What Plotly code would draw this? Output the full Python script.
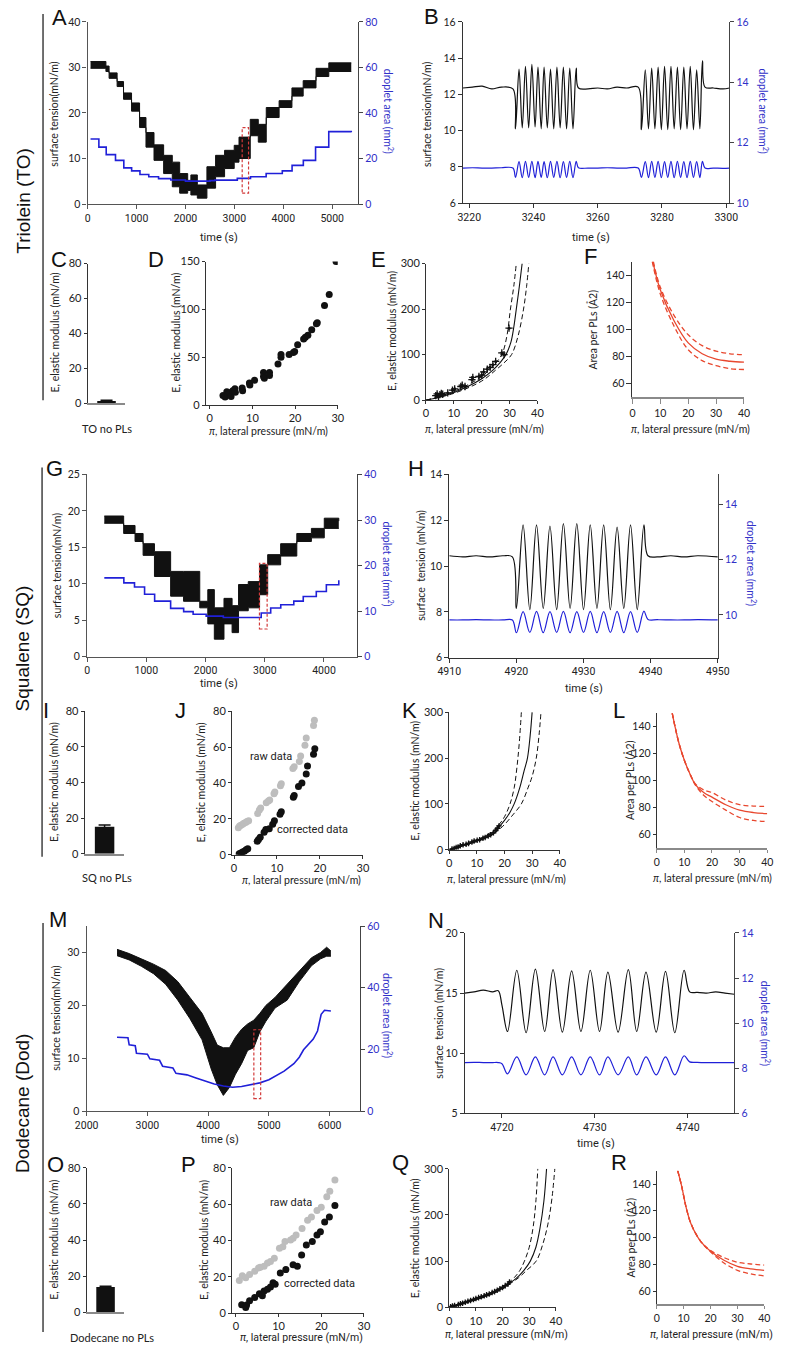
import plotly.graph_objects as go

W, H = 787, 1349

# ====================== DATA ======================
# ---- A: Triolein time course ----
a_time = [60, 374, 439, 603, 734, 898, 1062, 1193, 1357, 1554, 1731, 1882, 2046, 2111, 2243, 2439, 2616, 2800, 2997, 3095, 3325, 3489, 3652, 3915, 4177, 4407, 4669, 4931, 5390]
a_tension_hi = [31.3, 30.3, 28.8, 26.9, 24.4, 22.2, 19.0, 15.7, 13.0, 10.7, 9.2, 6.7, 5.2, 6.4, 4.2, 8.2, 10.7, 11.8, 12.9, 14.7, 18.6, 17.5, 21.2, 22.7, 25.5, 27.1, 29.8, 31.0, 31.0]
a_tension_lo = [29.8, 29.1, 27.6, 25.8, 23.0, 20.4, 16.8, 12.5, 9.6, 6.7, 3.8, 2.4, 3.0, 2.0, 1.3, 3.5, 6.0, 7.8, 9.2, 10.0, 15.0, 13.6, 19.0, 21.2, 23.7, 25.5, 28.0, 29.1, 29.1]
a_area_time = [60, 230, 380, 570, 740, 900, 1070, 1250, 1450, 1700, 2000, 2500, 2600, 3060, 3330, 3650, 3980, 4180, 4410, 4660, 4930, 5390]
a_area = [28.6, 25.0, 21.7, 19.2, 15.9, 14.6, 13.0, 12.0, 11.2, 10.6, 10.1, 10.3, 10.5, 11.3, 12.0, 13.4, 14.6, 17.0, 19.2, 25.0, 31.8, 31.5]
a_box = [3160, 3290, 2.4, 16.8]

# ---- B: Triolein oscillations ----
b_time = [3218, 3221, 3224, 3227, 3230, 3233.6,
          3234.4, 3235.5, 3236.5, 3237.5, 3238.5, 3239.5, 3240.5, 3241.4, 3242.4, 3243.3,
          3244.3, 3245.3, 3246.3, 3247.3, 3248.3, 3249.3, 3250.3, 3251.3, 3252.3, 3253.3,
          3254.0, 3257, 3260, 3263, 3266, 3269, 3272.6,
          3273.6, 3274.8, 3275.8, 3276.8, 3277.8, 3278.8, 3279.8, 3280.8, 3281.8, 3282.8,
          3283.8, 3284.8, 3285.8, 3286.8, 3287.8, 3288.8, 3289.8, 3290.8, 3291.8, 3292.6,
          3293.4, 3296, 3299, 3301]
b_tension = [12.35, 12.4, 12.45, 12.3, 12.4, 12.3,
             10.1, 13.4, 10.15, 13.55, 10.15, 13.65, 10.2, 13.5, 10.1, 13.5,
             10.15, 13.4, 10.1, 13.5, 10.15, 13.5, 10.1, 13.45, 10.1, 13.45,
             12.35, 12.3, 12.35, 12.3, 12.4, 12.35, 12.4,
             10.05, 13.35, 10.1, 13.45, 10.1, 13.5, 10.05, 13.55, 10.05, 13.55,
             10.1, 13.5, 10.05, 13.5, 10.1, 13.55, 10.05, 13.35, 10.1, 13.85,
             12.4, 12.35, 12.3, 12.35]
b_area = [11.16, 11.17, 11.16, 11.16, 11.17, 11.16,
          10.85, 11.37, 10.84, 11.38, 10.85, 11.38, 10.84, 11.38, 10.85, 11.37,
          10.84, 11.38, 10.85, 11.38, 10.84, 11.37, 10.85, 11.38, 10.84, 11.38,
          11.17, 11.16, 11.16, 11.17, 11.16, 11.16, 11.16,
          10.85, 11.37, 10.84, 11.38, 10.85, 11.38, 10.84, 11.37, 10.85, 11.38,
          10.84, 11.38, 10.85, 11.37, 10.84, 11.38, 10.85, 11.37, 10.84, 11.38,
          11.16, 11.16, 11.15, 11.16]

# ---- C / I / O: bars ----
c_label, c_value, c_err = ["TO no PLs"], [1.2], [0.5]
i_label, i_value, i_err = ["SQ no PLs"], [15.2], [1.0]
o_label, o_value, o_err = ["Dodecane no PLs"], [14.0], [0.4]

# ---- D ----
d_pi = [3.1, 3.6, 4.0, 4.2, 4.6, 5.0, 5.4, 5.9, 6.0, 7.6, 7.7, 9.3, 9.4, 10.5, 12.6, 12.6, 12.8, 14.0, 14.0, 16.0,
        16.7, 16.7, 18.6, 19.6, 19.9, 20.6, 22.0, 22.4, 23.0, 23.9, 25.2, 25.0, 26.9, 28.0, 29.6]
d_E = [10.0, 8.6, 14.0, 11.0, 13.0, 9.0, 15.0, 17.0, 13.5, 18.0, 15.0, 23.0, 21.0, 26.0, 34.0, 30.0, 28.0, 34.0, 31.0, 43.0,
       50.0, 53.0, 53.0, 55.0, 56.0, 63.0, 69.0, 71.0, 73.0, 78.6, 86.0, 85.0, 104.0, 115.5, 150.0]

# ---- E ----
e_pi = [3.5, 4.0, 4.5, 5.0, 5.5, 6.0, 7.8, 9.5, 10.3, 12.5, 13.0, 14.0, 16.5, 16.8, 19.0, 20.0, 20.7, 22.0, 23.0, 24.0, 25.0, 27.2, 28.0, 29.8]
e_E = [10, 14, 8, 12, 15, 13, 16, 22, 25, 30, 33, 30, 45, 50, 52, 55, 62, 68, 72, 78, 85, 104, 100, 158]
e_fit_pi = [0, 5, 10, 15, 20, 24, 26.5, 28.7, 30.5, 31.5, 32.4, 33.5, 34.5]
e_fit_E = [0, 7, 17, 30, 47, 66, 82, 100, 128, 160, 200, 250, 300]
e_up_pi = [0, 10, 20, 24, 27.2, 29, 30.3, 31.5, 32.4]
e_up_E = [0, 19, 52, 75, 100, 140, 200, 250, 300]
e_dn_pi = [0, 10, 20, 25, 28, 30.7, 33, 35, 36.1, 36.9]
e_dn_E = [0, 15, 42, 66, 82, 100, 140, 200, 250, 300]

# ---- F ----
f_fit_pi = [7.3, 10, 15, 20, 25, 30, 35, 40]
f_fit_A = [150, 129, 106, 90, 82, 78, 76.5, 75.8]
f_up_pi = [7.5, 10, 15, 20, 25, 30, 35, 40]
f_up_A = [150, 131, 110, 96, 88, 84, 82, 81.3]
f_dn_pi = [7.1, 10, 15, 20, 25, 30, 35, 40]
f_dn_A = [150, 126, 102, 85, 77, 73.3, 71, 70.4]

# ---- G: Squalene time course ----
g_time = [290, 617, 809, 945, 1137, 1410, 1628, 1902, 2038, 2148, 2311, 2448, 2557, 2721, 2912, 3049, 3268, 3541, 3787, 4005, 4250]
g_tension_hi = [19.3, 18.0, 16.9, 15.5, 14.4, 11.7, 11.7, 7.6, 9.2, 6.7, 8.0, 7.0, 9.9, 10.3, 12.6, 14.0, 15.5, 16.9, 17.6, 19.0, 18.6]
g_tension_lo = [18.3, 16.9, 15.8, 13.9, 11.0, 8.3, 7.6, 6.7, 4.5, 2.4, 4.5, 3.3, 6.3, 6.7, 8.5, 12.6, 13.8, 15.8, 16.3, 17.6, 17.6]
g_area_time = [290, 620, 800, 970, 1140, 1410, 1630, 1790, 2010, 2300, 2940, 3100, 3270, 3490, 3650, 3870, 4040, 4250]
g_area = [17.3, 16.2, 15.3, 13.7, 12.2, 10.6, 9.9, 9.3, 8.9, 8.6, 9.6, 10.7, 11.4, 12.2, 13.2, 14.3, 15.8, 16.8]
g_box = [2910, 3040, 3.8, 12.8]

# ---- H: Squalene oscillations ----
h_time = [4910, 4912, 4914, 4916, 4918, 4919.4,
          4920.0, 4921.0, 4922.0, 4923.0, 4924.0, 4925.0, 4926.0, 4927.0, 4928.0, 4929.0,
          4930.0, 4931.0, 4932.0, 4933.0, 4934.0, 4935.0, 4936.0, 4937.0, 4938.0, 4939.0,
          4939.6, 4941, 4943, 4945, 4947, 4950]
h_tension = [10.45, 10.4, 10.45, 10.4, 10.45, 10.4,
             8.15, 11.8, 8.1, 11.8, 8.15, 11.75, 8.1, 11.85, 8.15, 11.85,
             8.1, 11.8, 8.15, 11.8, 8.1, 11.7, 8.15, 11.8, 8.1, 11.8,
             10.45, 10.4, 10.45, 10.4, 10.45, 10.4]
h_area = [9.82, 9.82, 9.83, 9.82, 9.82, 9.82,
          9.36, 10.12, 9.37, 10.13, 9.36, 10.12, 9.37, 10.13, 9.36, 10.12,
          9.37, 10.13, 9.36, 10.12, 9.37, 10.13, 9.36, 10.12, 9.37, 10.14,
          9.84, 9.83, 9.82, 9.82, 9.83, 9.82]

# ---- J ----
j_raw_pi = [1.0, 1.3, 1.6, 2.0, 2.3, 2.7, 3.0, 3.4, 5.5, 5.9, 6.2, 7.5, 8.0, 8.3, 9.3, 9.5, 10.8, 11.0, 13.7, 14.0, 15.2, 15.5, 16.5, 16.8, 18.5, 18.7]
j_raw_E = [15, 16, 16.5, 17, 17.5, 18, 18.5, 19, 23, 25, 26, 29, 30, 30.5, 34, 35, 38.5, 39.5, 48, 49, 52, 55, 61, 65, 72, 75]
j_cor_pi = [1.2, 1.6, 2.0, 2.4, 2.8, 3.2, 5.4, 5.7, 6.1, 7.0, 7.4, 8.2, 9.0, 9.4, 10.7, 11.0, 13.8, 14.0, 15.0, 15.8, 16.8, 17.1, 18.5, 18.8]
j_cor_E = [0.5, 1, 1.5, 2, 2.8, 3.3, 7.5, 8.5, 9.7, 12.5, 14, 14.5, 17, 19, 22.5, 24, 32, 33, 38, 40, 45, 49.5, 56, 59]

# ---- K ----
k_pi = [1.0, 1.8, 2.5, 3.2, 4.0, 5.0, 6.1, 7.0, 8.2, 9.0, 10.1, 11.0, 12.2, 13.0, 14.1, 15.0, 16.0, 16.8, 17.5, 18.0]
k_E = [2, 3, 5, 6, 9, 11, 12, 14, 17, 19, 21, 22, 25, 27, 30, 33, 37, 42, 47, 52]
k_fit_pi = [0, 5, 10, 15, 18, 20, 22, 23.5, 25.5, 27, 28.3, 29.3, 30]
k_fit_E = [0, 9, 20, 35, 50, 64, 82, 100, 135, 170, 200, 250, 300]
k_up_pi = [0, 10, 15, 18, 20, 22, 23.5, 24.5, 25.3, 26.1]
k_up_E = [0, 21, 38, 55, 72, 100, 135, 180, 230, 300]
k_dn_pi = [0, 10, 15, 18, 20, 23, 26.1, 28.5, 30, 31.5, 32.5, 33.2]
k_dn_E = [0, 18, 31, 44, 55, 76, 100, 135, 160, 200, 250, 300]

# ---- L ----
l_pi = [5.6, 8, 10, 12, 14, 17, 20, 25, 30, 35, 40]
l_fit_A = [150, 128, 115, 105, 97, 91, 87.6, 82, 78, 76.2, 75.4]
l_up_A = [150, 128, 115, 105, 97.5, 93, 91, 85.5, 82, 81, 80.7]
l_dn_A = [150, 128, 115, 105, 96.5, 89, 84.4, 78, 72.5, 70.3, 69.5]

# ---- M: Dodecane time course ----
m_time = [2500, 2700, 2900, 3100, 3300, 3500, 3700, 3900, 4050, 4150, 4250, 4350, 4450, 4550, 4650, 4750, 4850, 4950, 5100, 5300, 5500, 5700, 5850, 5950, 6020]
m_tension_hi = [30.6, 29.8, 28.8, 27.8, 26.6, 24.5, 21.5, 18.5, 15.0, 12.5, 12.0, 12.0, 14.0, 15.5, 16.5, 17.2, 18.5, 20.0, 21.5, 24.0, 26.5, 29.0, 30.0, 31.0, 30.3]
m_tension_lo = [29.4, 28.6, 27.4, 26.0, 24.0, 21.0, 17.5, 13.5, 8.0, 5.0, 3.0, 4.5, 7.0, 9.0, 11.5, 12.0, 15.0, 17.0, 19.5, 21.0, 24.5, 27.5, 28.8, 29.3, 29.3]
m_area_time = [2500, 2680, 2700, 2800, 2820, 3000, 3040, 3200, 3250, 3420, 3470, 3650, 3800, 3950, 4100, 4250, 4400, 4550, 4700, 4850, 5000, 5140, 5250, 5410, 5500, 5570, 5730, 5800, 5860, 5915, 6020]
m_area = [24.0, 23.8, 21.5, 21.2, 18.8, 18.5, 17.0, 16.5, 14.6, 14.0, 12.3, 11.8, 10.8, 9.8, 8.8, 8.2, 7.8, 8.0, 8.5, 9.2, 10.2, 11.8, 13.0, 15.4, 17.5, 19.9, 23.4, 26.0, 31.4, 32.7, 32.5]
m_box = [4752, 4864, 2.4, 15.4]

# ---- N: Dodecane oscillations ----
n_time = [4716, 4717, 4718, 4719, 4719.6, 4720.0, 4720.6,
          4721.6, 4722.6, 4723.6, 4724.6, 4725.5, 4726.5, 4727.5, 4728.5, 4729.5, 4730.5,
          4731.4, 4732.5, 4733.6, 4734.5, 4735.5, 4736.6, 4737.6, 4738.6, 4739.6,
          4740.2, 4741, 4742, 4743, 4744, 4745]
n_tension = [15.0, 15.1, 15.25, 15.1, 15.2, 14.0, 11.8,
             16.9, 11.7, 17.0, 11.8, 16.95, 11.75, 16.85, 11.8, 16.9, 11.8,
             16.75, 11.75, 16.95, 11.8, 16.75, 11.75, 16.8, 11.7, 16.9,
             15.1, 15.05, 15.0, 15.1, 15.0, 14.9]
n_area = [8.25, 8.26, 8.25, 8.25, 8.25, 8.2, 7.75,
          8.5, 7.7, 8.5, 7.7, 8.5, 7.7, 8.5, 7.7, 8.5, 7.7,
          8.5, 7.7, 8.5, 7.7, 8.5, 7.7, 8.5, 7.7, 8.55,
          8.28, 8.26, 8.25, 8.25, 8.25, 8.25]

# ---- P ----
p_raw_pi = [0.8, 1.5, 2.3, 3.2, 4.4, 5.3, 5.7, 6.6, 7.4, 8.1, 9.0, 10.2, 11.0, 11.5, 12.8, 13.4, 14.1, 15.5, 16.8, 17.7, 19.0, 20.0, 21.3, 22.0, 23.2]
p_raw_E = [18, 20.6, 19.5, 21.3, 23.1, 24.9, 25.3, 25.8, 27.6, 28.5, 30.3, 35.7, 36.6, 39.4, 40.3, 41.2, 43.0, 46.6, 51.1, 52.9, 56.5, 58.3, 64.0, 67.0, 73.3]
p_cor_pi = [1.35, 2.5, 2.3, 3.2, 4.4, 5.5, 6.2, 6.6, 7.4, 8.1, 8.7, 9.2, 10.4, 11.7, 13.4, 14.4, 15.4, 16.5, 17.9, 19.0, 19.8, 20.8, 21.9, 23.2]
p_cor_E = [4.7, 4.5, 3.2, 6.9, 8.7, 10.8, 9.6, 12.3, 13.2, 14.4, 16.8, 15.9, 22.2, 24.0, 26.7, 25.8, 32.1, 37.5, 39.4, 43.0, 44.8, 50.2, 52.9, 59.2]

# ---- Q ----
q_pi = [0.5, 1.2, 2.0, 2.6, 3.4, 4.2, 5.0, 6.0, 7.0, 8.0, 9.1, 10.0, 11.0, 12.0, 13.1, 14.0, 15.0, 16.1, 17.0, 18.0, 19.0, 20.0, 21.0, 22.0, 22.6]
q_E = [1, 3, 4, -2, 6, 8, 9, 11, 13, 15, 17, 19, 21, 23, 25, 27, 29, 32, 34, 37, 40, 43, 47, 50, 55]
q_fit_pi = [0, 5, 10, 15, 20, 22, 25, 28, 30.4, 32.5, 34, 35.5, 36.5]
q_fit_E = [0, 8, 17, 27, 42, 50, 62, 80, 100, 130, 170, 230, 300]
q_up_pi = [0, 10, 15, 20, 22, 24.5, 26.5, 28.2, 30, 31.5, 32.5, 33.2]
q_up_E = [0, 17, 28, 44, 52, 65, 80, 100, 130, 175, 230, 300]
q_dn_pi = [0, 10, 15, 20, 22, 26, 29, 32.6, 35, 37, 38.5, 39.6]
q_dn_E = [0, 16, 26, 40, 48, 64, 80, 100, 135, 180, 235, 300]

# ---- R ----
r_pi = [7.8, 9.2, 11, 12.8, 16.4, 19.9, 25, 30, 35, 40]
r_fit_A = [150, 139, 122, 110, 97, 90, 83, 78.5, 76.5, 75.4]
r_up_A = [150, 139, 122, 110, 97, 90.5, 85, 81.5, 80.2, 79.4]
r_dn_A = [150, 139, 122, 110, 97, 89.5, 81, 75.5, 72.8, 71.2]

# ====================== STYLE ======================
BLK = '#111111'
BLUE = '#2020d8'
BLUE_T = '#3030c8'
RED = '#e8472e'
BOXRED = '#d23a3a'
GRAYPT = '#bdbdbd'
AXC = '#333333'
FONT = 'Lato, Open Sans, sans-serif'
NARROW = 'Liberation Sans Narrow, Roboto, sans-serif'
LETTER = 'Liberation Sans, Arial, sans-serif'

fig = go.Figure()
lay = dict(width=W, height=H, margin=dict(l=0, r=0, t=0, b=0), paper_bgcolor='white',
           plot_bgcolor='rgba(0,0,0,0)', showlegend=False, annotations=[], shapes=[])
cnt = {'x': 0, 'y': 0}


def new_id(k):
    cnt[k] += 1
    n = cnt[k]
    return (k if n == 1 else f'{k}{n}'), (f'{k}axis' if n == 1 else f'{k}axis{n}')


def base_axis(font, size, color='#222222', lc=AXC, lw=1, tl=4):
    return dict(showgrid=False, zeroline=False, showline=True, linecolor=lc, linewidth=lw,
                ticks='outside', ticklen=tl, tickwidth=1, tickcolor=lc,
                tickfont=dict(family=font, size=size, color=color), fixedrange=True)


def panel(box, xr, yr, xtv, ytv, xfont=FONT, yfont=FONT, size=11, xlc=AXC, xlw=1, ylc=AXC, ylw=1,
          xticks=True, tl=3):
    l, r, t, b = box
    xid, xkey = new_id('x')
    yid, ykey = new_id('y')
    xa = base_axis(xfont, size, lc=xlc, lw=xlw, tl=tl)
    xa.update(domain=[l / W, r / W], range=xr, anchor=yid, tickvals=xtv)
    if not xticks:
        xa.update(ticks='', showticklabels=False)
    ya = base_axis(yfont, size, lc=ylc, lw=ylw, tl=tl)
    ya.update(domain=[1 - b / H, 1 - t / H], range=yr, anchor=xid, tickvals=ytv)
    lay[xkey] = xa
    lay[ykey] = ya
    return xid, yid


def right_axis(xid, yid, yr, ytv, size=11):
    y2, key = new_id('y')
    ya = base_axis(FONT, size, color=BLUE_T, lc='#444444')
    ya.update(overlaying=yid, side='right', anchor=xid, range=yr, tickvals=ytv)
    lay[key] = ya
    return y2


def line(x, y, xid, yid, color=BLK, width=1, dash=None, shape='linear'):
    fig.add_trace(go.Scatter(x=x, y=y, xaxis=xid, yaxis=yid, mode='lines', hoverinfo='skip',
                             line=dict(color=color, width=width, dash=dash, shape=shape)))


def band(x, lo, hi, xid, yid, shape):
    fig.add_trace(go.Scatter(x=x, y=lo, xaxis=xid, yaxis=yid, mode='lines', hoverinfo='skip',
                             line=dict(color=BLK, width=1, shape=shape)))
    fig.add_trace(go.Scatter(x=x, y=hi, xaxis=xid, yaxis=yid, mode='lines', hoverinfo='skip',
                             fill='tonexty', fillcolor=BLK, line=dict(color=BLK, width=1, shape=shape)))


def dots(x, y, xid, yid, color=BLK, size=7):
    fig.add_trace(go.Scatter(x=x, y=y, xaxis=xid, yaxis=yid, mode='markers', hoverinfo='skip',
                             marker=dict(color=color, size=size, line=dict(width=0))))


def crosses(x, y, xid, yid, xe=1.3, ye=8):
    fig.add_trace(go.Scatter(x=x, y=y, xaxis=xid, yaxis=yid, mode='markers', hoverinfo='skip',
                             marker=dict(color=BLK, size=3),
                             error_x=dict(type='constant', value=xe, color=BLK, thickness=1.3, width=0),
                             error_y=dict(type='constant', value=ye, color=BLK, thickness=1.3, width=0)))


def bar(lbl, val, err, xid, yid):
    fig.add_trace(go.Bar(x=[0], y=val, xaxis=xid, yaxis=yid, width=[0.98], marker=dict(color=BLK, line=dict(width=0)),
                         error_y=dict(type='data', array=err, color=BLK, thickness=1.5, width=6), hoverinfo='skip'))


def txt(x, y, s, size=11, color='#222222', angle=0, font=FONT):
    lay['annotations'].append(dict(x=x / W, y=1 - y / H, xref='paper', yref='paper', text=s, showarrow=False,
                                   textangle=angle, xanchor='center', yanchor='middle',
                                   font=dict(family=font, size=size, color=color)))


def box_shape(b, xid, yid):
    lay['shapes'].append(dict(type='rect', xref=xid, yref=yid, x0=b[0], x1=b[1], y0=b[2], y1=b[3],
                              line=dict(color=BOXRED, width=1.2, dash='3px,2px')))


def vline(x, y0, y1):
    lay['shapes'].append(dict(type='line', xref='paper', yref='paper', x0=x / W, x1=x / W,
                              y0=1 - y0 / H, y1=1 - y1 / H, line=dict(color=BLK, width=1.2)))


DASH = '5px,3px'
TS = 10.5  # tick size time panels
PI = '<i>\u03c0</i>, lateral pressure (mN/m)'
EM = 'E, elastic modulus (mN/m)'
AREA = 'droplet area (mm<sup>2</sup>)'
APL = 'Area per PLs (\u00c52)'

# ====================== ROW 1 ======================
xa_, ya_ = panel((78, 357, 15, 199), [0, 5530], [0, 40], [0, 1000, 2000, 3000, 4000, 5000], [0, 10, 20, 30, 40],
                 xfont=NARROW, size=TS, xlc='#555', xlw=1.3, ylc='#555', ylw=1.3, tl=4)
ya2 = right_axis(xa_, ya_, [0, 80], [0, 20, 40, 60, 80], size=TS)
band(a_time, a_tension_lo, a_tension_hi, xa_, ya_, 'hv')
line(a_area_time, a_area, xa_, ya2, BLUE, 1.6, shape='hv')
box_shape(a_box, xa_, ya_)

xb_, yb_ = panel((465, 740, 15, 198), [3218, 3301], [6, 16], [3220, 3240, 3260, 3280, 3300], [6, 8, 10, 12, 14, 16],
                 xfont=NARROW, size=TS, tl=4)
yb2 = right_axis(xb_, yb_, [10, 16], [10, 12, 14, 16], size=TS)
line(b_time, b_tension, xb_, yb_, BLK, 1.2, shape='spline')
line(b_time, b_area, xb_, yb2, BLUE, 1.2, shape='spline')

# ====================== ROW 2 ======================
xc_, yc_ = panel((78, 117, 259, 400), [-1, 1], [0, 80], [], [0, 20, 40, 60, 80], xlc='#8a8a8a', xlw=2.2, xticks=False)
bar(c_label, c_value, c_err, xc_, yc_)

xd_, yd_ = panel((200, 336, 257, 402), [-0.9, 30], [0, 150], [0, 10, 20, 30], [0, 50, 100, 150])
dots(d_pi, d_E, xd_, yd_)

xe_, ye_ = panel((427, 542, 259, 397), [0, 40], [0, 300], [0, 10, 20, 30, 40], [0, 100, 200, 300])
line(e_up_pi, e_up_E, xe_, ye_, BLK, 1, DASH, 'spline')
line(e_dn_pi, e_dn_E, xe_, ye_, BLK, 1, DASH, 'spline')
line(e_fit_pi, e_fit_E, xe_, ye_, BLK, 1.1, None, 'spline')
crosses(e_pi, e_E, xe_, ye_)

xf_, yf_ = panel((640, 755, 257, 394), [0, 40], [50, 150], [0, 10, 20, 30, 40], [60, 80, 100, 120, 140],
                 size=10.5, xlc='#8a8a8a', xlw=2.2, tl=5)
line(f_up_pi, f_up_A, xf_, yf_, RED, 1.3, DASH, 'spline')
line(f_dn_pi, f_dn_A, xf_, yf_, RED, 1.3, DASH, 'spline')
line(f_fit_pi, f_fit_A, xf_, yf_, RED, 1.3, None, 'spline')

# ====================== ROW 3 ======================
xg_, yg_ = panel((77.5, 356, 472, 656), [0, 4560], [0, 25], [0, 1000, 2000, 3000, 4000], [0, 5, 10, 15, 20, 25],
                 xfont=NARROW, size=TS, xlc='#555', xlw=1.3, ylc='#555', ylw=1.3, tl=4)
yg2 = right_axis(xg_, yg_, [0, 40], [0, 10, 20, 30, 40], size=TS)
band(g_time, g_tension_lo, g_tension_hi, xg_, yg_, 'hv')
line(g_area_time, g_area, xg_, yg2, BLUE, 1.6, shape='hv')
box_shape(g_box, xg_, yg_)

xh_, yh_ = panel((451, 728, 472, 657), [4910, 4950], [6, 14], [4910, 4920, 4930, 4940, 4950], [6, 8, 10, 12, 14],
                 xfont=NARROW, size=TS, tl=4)
yh2 = right_axis(xh_, yh_, [8.46, 15.07], [10, 12, 14], size=TS)
line(h_time, h_tension, xh_, yh_, BLK, 1.2, shape='spline')
line(h_time, h_area, xh_, yh2, BLUE, 1.2, shape='spline')

# ====================== ROW 4 ======================
xi_, yi_ = panel((75, 116, 711, 855), [-1, 1], [0, 80], [], [0, 20, 40, 60, 80], xlc='#8a8a8a', xlw=2.2, xticks=False)
bar(i_label, i_value, i_err, xi_, yi_)

xj_, yj_ = panel((227, 362, 711, 856), [-0.45, 30], [0, 80], [0, 10, 20, 30], [0, 20, 40, 60, 80])
dots(j_raw_pi, j_raw_E, xj_, yj_, GRAYPT)
dots(j_cor_pi, j_cor_E, xj_, yj_, BLK)

xk_, yk_ = panel((451, 565, 712, 851), [0, 40], [0, 300], [0, 10, 20, 30, 40], [0, 100, 200, 300])
line(k_up_pi, k_up_E, xk_, yk_, BLK, 1, DASH, 'spline')
line(k_dn_pi, k_dn_E, xk_, yk_, BLK, 1, DASH, 'spline')
line(k_fit_pi, k_fit_E, xk_, yk_, BLK, 1.1, None, 'spline')
crosses(k_pi, k_E, xk_, yk_, 1.0, 6)

xl_, yl_ = panel((665, 779, 713, 849), [0, 40], [50, 150], [0, 10, 20, 30, 40], [60, 80, 100, 120, 140],
                 size=10.5, xlc='#8a8a8a', xlw=2.2)
line(l_pi, l_up_A, xl_, yl_, RED, 1.3, DASH, 'spline')
line(l_pi, l_dn_A, xl_, yl_, RED, 1.3, DASH, 'spline')
line(l_pi, l_fit_A, xl_, yl_, RED, 1.3, None, 'spline')

# ====================== ROW 5 ======================
xm_, ym_ = panel((77, 359, 928, 1115), [2000, 6500], [0, 35], [2000, 3000, 4000, 5000, 6000], [0, 10, 20, 30],
                 xfont=NARROW, size=TS, xlc='#555', xlw=1.3, ylc='#555', ylw=1.3, tl=4)
ym2 = right_axis(xm_, ym_, [0, 60], [0, 20, 40, 60], size=TS)
band(m_time, m_tension_lo, m_tension_hi, xm_, ym_, 'linear')
line(m_area_time, m_area, xm_, ym2, BLUE, 1.6)
box_shape(m_box, xm_, ym_)

xn_, yn_ = panel((467, 745, 935, 1117), [4716, 4745], [5, 20], [4720, 4730, 4740], [5, 10, 15, 20],
                 xfont=NARROW, size=TS, tl=4)
yn2 = right_axis(xn_, yn_, [6, 14], [6, 8, 10, 12, 14], size=TS)
line(n_time, n_tension, xn_, yn_, BLK, 1.2, shape='spline')
line(n_time, n_area, xn_, yn2, BLUE, 1.2, shape='spline')

# ====================== ROW 6 ======================
xo_, yo_ = panel((77, 116, 1172, 1318), [-1, 1], [0, 80], [], [0, 20, 40, 60, 80], xlc='#8a8a8a', xlw=2.2, xticks=False)
bar(o_label, o_value, o_err, xo_, yo_)

xp_, yp_ = panel((227, 363, 1172, 1319), [-0.9, 30], [0, 80], [0, 10, 20, 30], [0, 20, 40, 60, 80])
dots(p_raw_pi, p_raw_E, xp_, yp_, GRAYPT)
dots(p_cor_pi, p_cor_E, xp_, yp_, BLK)

xq_, yq_ = panel((451, 561, 1173, 1313), [0, 40], [0, 300], [0, 10, 20, 30, 40], [0, 100, 200, 300])
line(q_up_pi, q_up_E, xq_, yq_, BLK, 1, DASH, 'spline')
line(q_dn_pi, q_dn_E, xq_, yq_, BLK, 1, DASH, 'spline')
line(q_fit_pi, q_fit_E, xq_, yq_, BLK, 1.1, None, 'spline')
crosses(q_pi, q_E, xq_, yq_, 1.0, 6)

xr_, yr_ = panel((665, 776, 1175, 1310), [0, 40], [50, 150], [0, 10, 20, 30, 40], [60, 80, 100, 120, 140],
                 size=10.5, xlc='#8a8a8a', xlw=2.2)
line(r_pi, r_up_A, xr_, yr_, RED, 1.3, DASH, 'spline')
line(r_pi, r_dn_A, xr_, yr_, RED, 1.3, DASH, 'spline')
line(r_pi, r_fit_A, xr_, yr_, RED, 1.3, None, 'spline')

# ====================== TEXT ======================
for s, x, y in [('A', 49, 11), ('B', 433, 10), ('C', 48, 255), ('D', 149, 255), ('E', 378, 255), ('F', 597, 252),
                ('G', 44, 466), ('H', 417, 466), ('I', 35, 710), ('J', 174, 710), ('K', 410, 710), ('L', 626, 710),
                ('M', 47, 921), ('N', 437, 922), ('O', 45, 1169), ('P', 182, 1169), ('Q', 401, 1167), ('R', 626, 1167)]:
    txt(x, y, s, 22, '#111111', 0, LETTER)

for s, y in [('Triolein (TO)', 196), ('Squalene (SQ)', 648), ('Dodecane (Dod)', 1107)]:
    txt(11, y, s, 19, '#111111', -90, LETTER)
vline(32, 7, 397)
vline(31, 465, 858)
vline(32, 925, 1338)

TT = 10.5
# row 1
txt(43, 108, 'surface tension(mN/m)', TT, angle=-90)
txt(388, 105, AREA, TT, BLUE_T, 90)
txt(213, 233, 'time (s)', 11, font=NARROW)
txt(428, 108, 'surface tension(mN/m)', TT, angle=-90)
txt(775, 105, AREA, TT, BLUE_T, 90)
txt(597, 233, 'time (s)', 11, font=NARROW)
# row 2
txt(44, 329, EM, TT, angle=-90)
txt(98, 426, c_label[0], 11)
txt(169, 329, EM, TT, angle=-90)
txt(265, 428, PI, TT)
txt(392, 327, EM, TT, angle=-90)
txt(487, 426, PI, TT)
txt(599, 326, APL, TT, angle=-90)
txt(700, 426, PI, TT)
# row 3
txt(46, 564, 'surface tension(mN/m)', TT, angle=-90)
txt(388, 562, AREA, TT, BLUE_T, 90)
txt(213, 683, 'time (s)', 11, font=NARROW)
txt(421, 564, 'surface  tension (mN/m)', TT, angle=-90)
txt(763, 562, AREA, TT, BLUE_T, 90)
txt(590, 688, 'time (s)', 11, font=NARROW)
# row 4
txt(44, 783, EM, TT, angle=-90)
txt(98, 879, i_label[0], 11)
txt(195, 783, EM, TT, angle=-90)
txt(299, 881, PI, TT)
txt(267, 757, 'raw data', 11, font=NARROW)
txt(310, 831, 'corrected data', 11, font=NARROW)
txt(416, 781, EM, TT, angle=-90)
txt(510, 880, PI, TT)
txt(637, 781, APL, TT, angle=-90)
txt(723, 879, PI, TT)
# row 5
txt(46, 1021, 'surface tension(mN/m)', TT, angle=-90)
txt(388, 1018, AREA, TT, BLUE_T, 90)
txt(215, 1144, 'time (s)', 11, font=NARROW)
txt(441, 1026, 'surface  tension (mN/m)', TT, angle=-90)
txt(778, 1026, AREA, TT, BLUE_T, 90)
txt(602, 1148, 'time (s)', 11, font=NARROW)
# row 6
txt(43, 1245, EM, TT, angle=-90)
txt(103, 1343, o_label[0], 11)
txt(198, 1245, EM, TT, angle=-90)
txt(299, 1343, PI, TT, font=NARROW)
txt(288, 1207, 'raw data', 11, font=NARROW)
txt(317, 1289, 'corrected data', 11, font=NARROW)
txt(416, 1243, EM, TT, angle=-90)
txt(510, 1340, PI, TT, font=NARROW)
txt(637, 1243, APL, TT, angle=-90)
txt(722, 1340, PI, TT, font=NARROW)

fig.update_layout(**lay)
fig.write_html("out.html", config={'displayModeBar': False},
               post_script="document.body.style.margin='0px';")
